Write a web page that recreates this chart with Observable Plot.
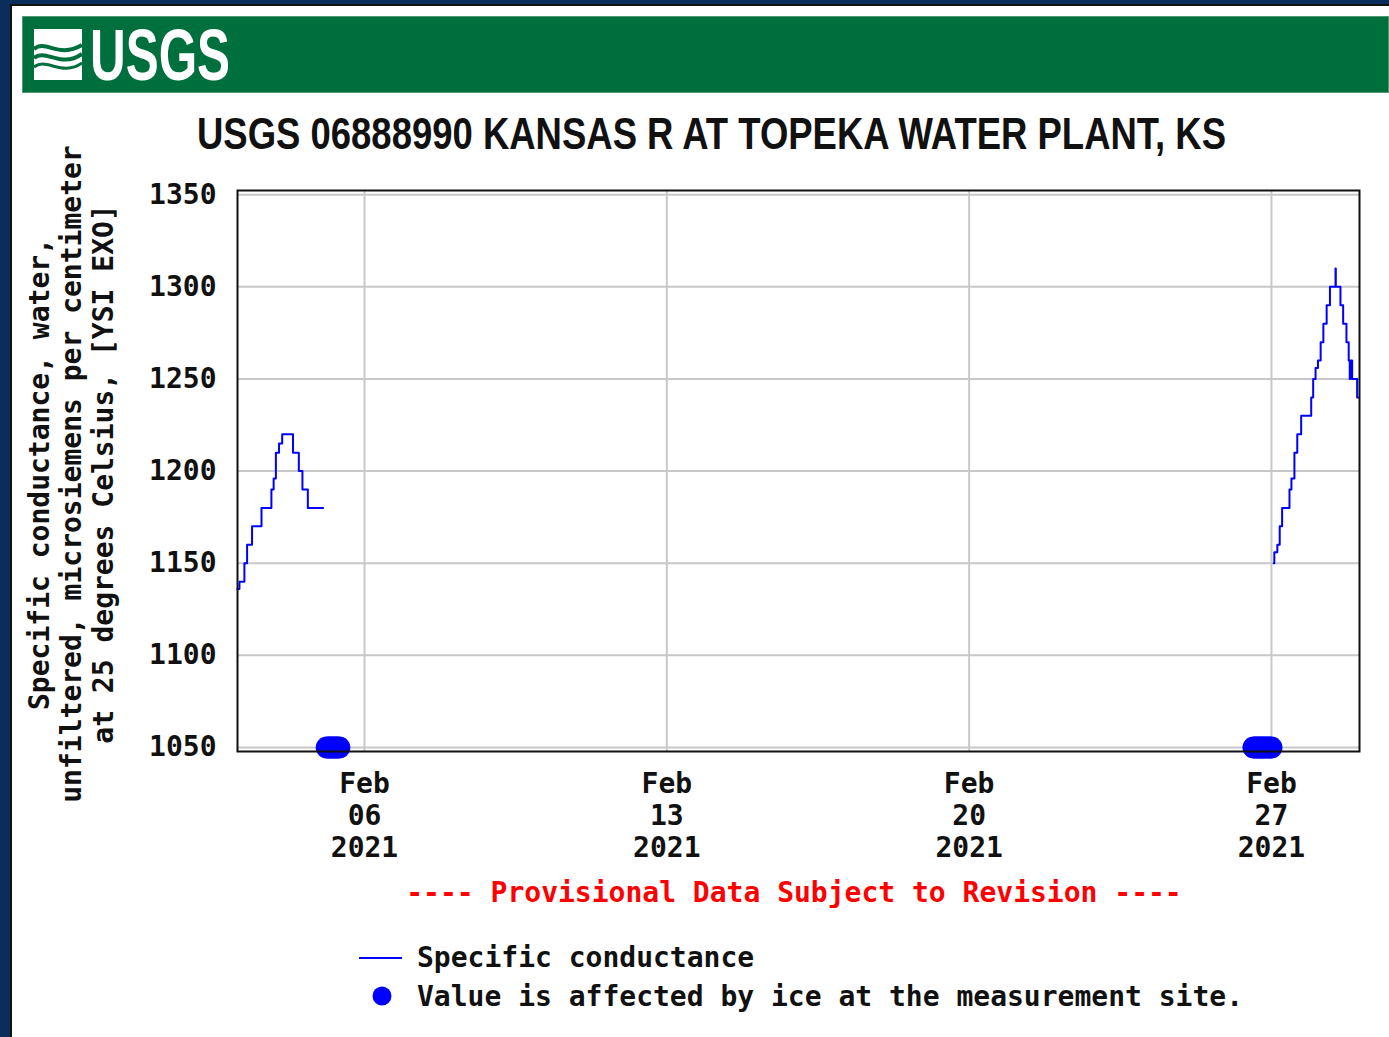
<!DOCTYPE html>
<html>
<head>
<meta charset="utf-8">
<script src="https://cdn.jsdelivr.net/npm/d3@7"></script>
<script src="https://cdn.jsdelivr.net/npm/@observablehq/plot@0.6"></script>
<style>
  html, body { margin: 0; padding: 0; }
  body { width: 1389px; height: 1037px; overflow: hidden; position: relative; background: #0b2d5b; }
  .abs { position: absolute; }
  .mono { font-family: "DejaVu Sans Mono", monospace; font-weight: bold; font-size: 28px; line-height: 32px; white-space: pre; }
</style>
</head>
<body>
<div class="abs" style="left:10px;top:4px;right:0;bottom:0;background:#fff;border-left:2px solid #111;border-top:2px solid #111;"></div>
<div class="abs" style="left:22px;top:16px;width:1367px;height:77px;background:#006f3e;box-shadow: inset 0 0 0 1px #4e9a72;"></div>
<svg class="abs" style="left:34px;top:29px" width="50" height="52" viewBox="0 0 50 52">
  <rect x="0" y="0" width="48" height="51" fill="#fff"/>
  <path d="M0 20 C12 10, 24 30, 48 16" stroke="#006f3e" stroke-width="4" fill="none"/>
  <path d="M0 29 C12 19, 26 40, 48 25" stroke="#006f3e" stroke-width="4" fill="none"/>
  <path d="M0 38 C12 28, 28 48, 48 34" stroke="#006f3e" stroke-width="3" fill="none"/>
</svg>
<div id="logo" class="abs" style="left:90px;top:15px;font-family:'Liberation Sans',Arial,sans-serif;font-weight:bold;font-size:72px;line-height:80px;color:#fff;transform-origin:0 0;white-space:pre;">USGS</div>
<div id="title" class="abs" style="left:197px;top:109px;font-family:'Liberation Sans',Arial,sans-serif;font-weight:bold;font-size:45px;line-height:50px;color:#111;transform-origin:0 0;white-space:pre;">USGS 06888990 KANSAS R AT TOPEKA WATER PLANT, KS</div>
<div id="ylabel" class="abs mono" style="left:-278px;top:426px;width:700px;height:96px;text-align:center;transform:rotate(-90deg);transform-origin:50% 50%;color:#111;">Specific conductance, water,
unfiltered, microsiemens per centimeter
at 25 degrees Celsius, [YSI EXO]</div>
<div id="chart" class="abs" style="left:0;top:170px;"></div>
<div class="abs mono" style="left:0;width:1588px;top:877px;text-align:center;color:#ff0000;">---- Provisional Data Subject to Revision ----</div>
<svg class="abs" style="left:355px;top:940px" width="60" height="80">
  <line x1="4" y1="18" x2="47" y2="18" stroke="#0000ff" stroke-width="2"/>
  <circle cx="27" cy="56" r="9.5" fill="#0000ff"/>
</svg>
<div class="abs mono" style="left:417px;top:942px;color:#111;">Specific conductance</div>
<div class="abs mono" style="left:417px;top:981px;color:#111;">Value is affected by ice at the measurement site.</div>
<script>
// Data (UTC times)
const leftTimes = ["2021-02-03T01:25","2021-02-03T02:30","2021-02-03T05:15","2021-02-03T06:45","2021-02-03T09:30","2021-02-03T14:45","2021-02-03T20:15","2021-02-03T21:30","2021-02-03T22:45","2021-02-04T00:30","2021-02-04T02:15","2021-02-04T08:15","2021-02-04T11:30","2021-02-04T13:30","2021-02-04T16:30","2021-02-05T01:00"];
const leftValues = [1136,1140,1150,1160,1170,1180,1190,1196,1210,1215,1220,1210,1200,1190,1180,1180];
const rightTimes = ["2021-02-27T01:15","2021-02-27T01:35","2021-02-27T03:15","2021-02-27T04:35","2021-02-27T05:55","2021-02-27T10:00","2021-02-27T11:05","2021-02-27T12:45","2021-02-27T14:20","2021-02-27T16:30","2021-02-27T22:05","2021-02-27T23:10","2021-02-28T00:30","2021-02-28T01:50","2021-02-28T03:20","2021-02-28T04:50","2021-02-28T06:40","2021-02-28T08:30","2021-02-28T11:35","2021-02-28T11:45","2021-02-28T14:20","2021-02-28T15:50","2021-02-28T17:40","2021-02-28T18:55","2021-02-28T19:30","2021-02-28T19:50","2021-02-28T20:50","2021-02-28T23:36","2021-03-01T00:40"];
const rightValues = [1150,1156,1160,1170,1180,1190,1196,1210,1220,1230,1240,1250,1256,1260,1270,1280,1290,1300,1310,1300,1290,1280,1270,1260,1250,1260,1250,1240,1240];
const iceTimes = ["2021-02-05T03:00","2021-02-05T04:00","2021-02-05T05:00","2021-02-05T06:00","2021-02-05T07:00","2021-02-05T08:00","2021-02-05T09:00","2021-02-05T10:00",
  "2021-02-26T14:00","2021-02-26T15:00","2021-02-26T16:00","2021-02-26T17:00","2021-02-26T18:00","2021-02-26T19:00","2021-02-26T20:00","2021-02-26T21:00","2021-02-26T22:00","2021-02-26T23:00","2021-02-27T00:00"];
const iceValue = 1050;
const xDomain = ["2021-02-03T01:25","2021-03-01T00:55"];
const xTicks = ["2021-02-06","2021-02-13","2021-02-20","2021-02-27"];
const yTicks = [1050,1100,1150,1200,1250,1300,1350];
const yDomain = [1047.8, 1352.3];

const T = s => new Date(s.length === 10 ? s + "T00:00Z" : s + "Z");
const series = [
  ...leftTimes.map((t, i) => ({t: T(t), v: leftValues[i], seg: "a"})),
  ...rightTimes.map((t, i) => ({t: T(t), v: rightValues[i], seg: "b"}))
];
const ice = iceTimes.map(t => ({t: T(t), v: iceValue}));
const xt = xTicks.map(T);
const mon = d3.utcFormat("%b"), day = d3.utcFormat("%d"), yr = d3.utcFormat("%Y");

const chart = Plot.plot({
  width: 1389, height: 700,
  marginLeft: 237, marginRight: 30, marginTop: 20, marginBottom: 119,
  style: {fontFamily: "DejaVu Sans Mono, monospace", fontSize: "28px", fontWeight: "bold", color: "#111", background: "transparent", overflow: "visible"},
  x: {type: "utc", domain: xDomain.map(T)},
  y: {domain: yDomain},
  marks: [
    Plot.gridX(xt, {stroke: "#c8c8c8", strokeOpacity: 1, strokeWidth: 2}),
    Plot.gridY(yTicks, {stroke: "#c8c8c8", strokeOpacity: 1, strokeWidth: 2}),
    Plot.dot(ice, {x: "t", y: "v", r: 11, fill: "#0000ff", stroke: null}),
    Plot.line(series, {x: "t", y: "v", z: "seg", curve: "step-after", stroke: "#0000ff", strokeWidth: 2}),
    Plot.frame({stroke: "#111", strokeWidth: 2}),
    Plot.axisY(yTicks, {tickSize: 0, tickPadding: 21, label: null, fontSize: 28, tickFormat: d => String(d)}),
    Plot.axisX(xt, {tickSize: 0, tickPadding: 22, label: null, tickFormat: mon, fontSize: 28}),
    Plot.axisX(xt, {tickSize: 0, tickPadding: 54, label: null, tickFormat: day, fontSize: 28}),
    Plot.axisX(xt, {tickSize: 0, tickPadding: 86, label: null, tickFormat: yr, fontSize: 28})
  ]
});
document.getElementById("chart").appendChild(chart);

function fit(id, w) {
  const el = document.getElementById(id);
  const r = el.getBoundingClientRect();
  el.style.transform = `scaleX(${w / r.width})`;
}
fit("title", 1029);
fit("logo", 140);
</script>
</body>
</html>
